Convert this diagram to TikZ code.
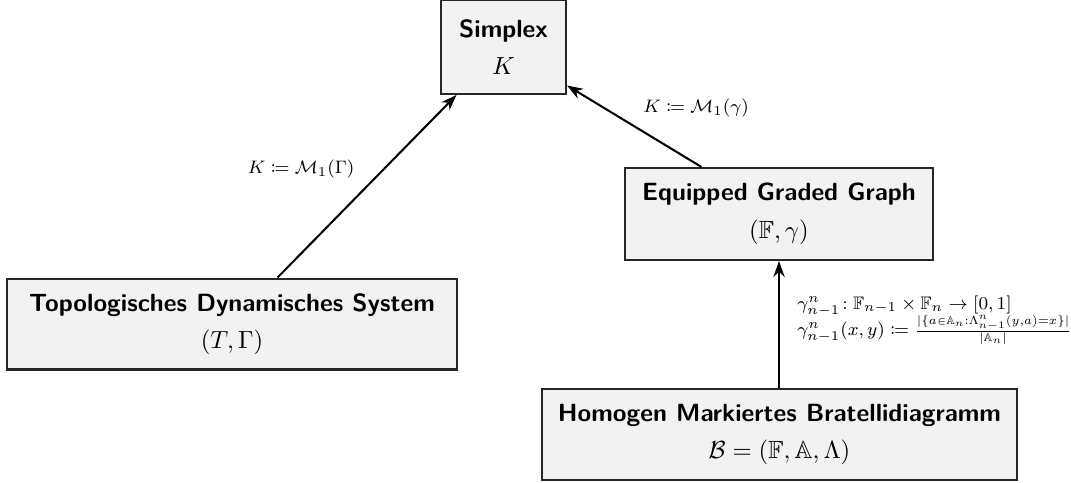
\documentclass[tikz,border=0pt]{standalone}
\usepackage{amssymb,mathtools,graphicx}
\usetikzlibrary{arrows.meta}
\begin{document}
\begin{tikzpicture}[x=0.442pt,y=-0.442pt,
  box/.style={draw=black!85, fill=black!5, line width=0.9pt, align=center,
    inner sep=0pt, font=\fontsize{11}{13.6}\selectfont},
  conn/.style={-{Stealth[length=7pt,width=5pt]}, line width=0.9pt},
  lbl/.style={font=\footnotesize, inner sep=0pt}]
\useasboundingbox (0,0) rectangle (1071,482);

\node[box, minimum width=55.3pt, minimum height=41.5pt] (simplex) at (503.5,47)
  {\textsf{\bfseries Simplex}\\[3pt]$K$};
\node[box, minimum width=136pt, minimum height=40.7pt] (equip) at (779,214)
  {\textsf{\bfseries Equipped Graded Graph}\\[3pt]$(\mathbb{F},\gamma)$};
\node[box, minimum width=199pt, minimum height=40.2pt] (topo) at (232,324)
  {\textsf{\bfseries Topologisches Dynamisches System}\\[3pt]$(T,\Gamma)$};
\node[box, minimum width=210pt, minimum height=40.2pt] (bratteli) at (779.5,434.5)
  {\textsf{\bfseries Homogen Markiertes Bratellidiagramm}\\[3pt]$\mathcal{B} = (\mathbb{F},\mathbb{A},\Lambda)$};

\draw[conn] (topo) -- (simplex);
\draw[conn] (equip) -- (simplex);
\draw[conn] (bratteli.north -| equip.south) -- (equip.south);

\node[lbl] (lgamma) at (301,169) {$K \coloneqq \mathcal{M}_1(\Gamma)$};
\node[lbl] (lgam) at (696,108) {$K \coloneqq \mathcal{M}_1(\gamma)$};
\node[lbl, anchor=west, align=left] (lweight) at (797,320)
  {$\gamma^n_{n-1}\mathrel{\mkern-3mu:} \mathbb{F}_{n-1}\times\mathbb{F}_n \to [0,1]$\\[-1.5pt]
   $\gamma^n_{n-1}(x,y) \coloneqq{}$\resizebox{69.5pt}{!}{$\frac{|\{a\mathrel{\scriptscriptstyle\in}\mathbb{A}_n:\Lambda^n_{n-1}(y,a)=x\}|}{|\mathbb{A}_n|}$}};
\end{tikzpicture}
\end{document}
